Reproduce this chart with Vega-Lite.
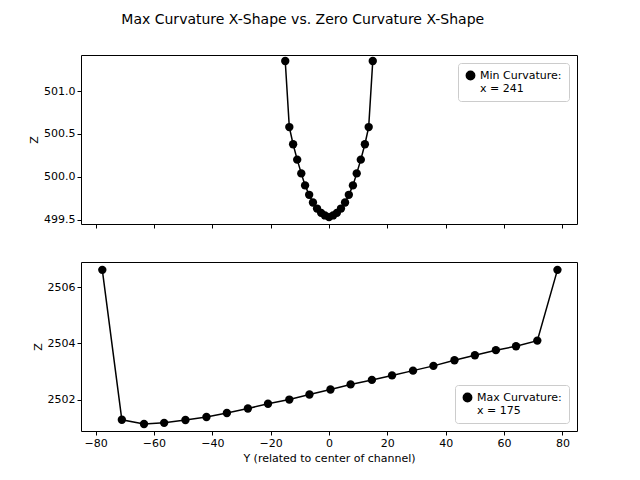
{
  "$schema": "https://vega.github.io/schema/vega-lite/v6.json",
  "title": {"text": "Max Curvature X-Shape vs. Zero Curvature X-Shape", "anchor": "middle", "fontSize": 14, "fontWeight": "normal", "font": "DejaVu Sans", "offset": 28},
  "padding": {"left": 28, "top": 12, "right": 10, "bottom": 5},
  "spacing": 32,
  "datasets": {
    "top": [
      {"y": -15.0, "z": 501.35}, {"y": -13.6, "z": 500.58}, {"y": -12.3, "z": 500.38}, {"y": -10.9, "z": 500.2},
      {"y": -9.5, "z": 500.04}, {"y": -8.2, "z": 499.9}, {"y": -6.8, "z": 499.79}, {"y": -5.5, "z": 499.7},
      {"y": -4.1, "z": 499.63}, {"y": -2.7, "z": 499.58}, {"y": -1.4, "z": 499.55}, {"y": 0.0, "z": 499.53},
      {"y": 1.4, "z": 499.55}, {"y": 2.7, "z": 499.58}, {"y": 4.1, "z": 499.63}, {"y": 5.5, "z": 499.7},
      {"y": 6.8, "z": 499.79}, {"y": 8.2, "z": 499.9}, {"y": 9.5, "z": 500.04}, {"y": 10.9, "z": 500.2},
      {"y": 12.3, "z": 500.38}, {"y": 13.6, "z": 500.58}, {"y": 15.0, "z": 501.35}
    ],
    "bottom": [
      {"y": -77.7, "z": 2506.62}, {"y": -71.0, "z": 2501.28}, {"y": -63.4, "z": 2501.13}, {"y": -56.5, "z": 2501.17},
      {"y": -49.2, "z": 2501.27}, {"y": -42.0, "z": 2501.38}, {"y": -35.0, "z": 2501.52}, {"y": -27.8, "z": 2501.68},
      {"y": -20.9, "z": 2501.85}, {"y": -13.6, "z": 2502.0}, {"y": -6.7, "z": 2502.18}, {"y": 0.5, "z": 2502.36},
      {"y": 7.4, "z": 2502.54}, {"y": 14.7, "z": 2502.7}, {"y": 21.6, "z": 2502.86}, {"y": 28.8, "z": 2503.03},
      {"y": 35.8, "z": 2503.2}, {"y": 43.0, "z": 2503.4}, {"y": 50.0, "z": 2503.58}, {"y": 57.2, "z": 2503.76},
      {"y": 64.1, "z": 2503.9}, {"y": 71.4, "z": 2504.1}, {"y": 78.3, "z": 2506.62}
    ]
  },
  "vconcat": [
    {
      "width": 496, "height": 169,
      "data": {"name": "top"},
      "transform": [{"calculate": "'min'", "as": "series"}],
      "mark": {"type": "line", "point": {"size": 70, "filled": true, "opacity": 1}, "color": "black", "strokeWidth": 1.5},
      "encoding": {
        "x": {"field": "y", "type": "quantitative", "scale": {"domain": [-85, 85], "nice": false},
              "axis": {"values": [-80, -60, -40, -20, 0, 20, 40, 60, 80], "labels": false, "title": null}},
        "y": {"field": "z", "type": "quantitative", "title": "Z", "scale": {"domain": [499.45, 501.42], "nice": false, "zero": false},
              "axis": {"values": [499.5, 500.0, 500.5, 501.0], "format": ".1f"}},
        "color": {"field": "series", "type": "nominal", "scale": {"range": ["black"]},
                  "legend": {"orient": "top-right", "title": null, "labelExpr": "['Min Curvature:', 'x = 241']", "symbolType": "circle"}}
      }
    },
    {
      "width": 496, "height": 169,
      "data": {"name": "bottom"},
      "transform": [{"calculate": "'max'", "as": "series"}],
      "mark": {"type": "line", "point": {"size": 70, "filled": true, "opacity": 1}, "color": "black", "strokeWidth": 1.5},
      "encoding": {
        "x": {"field": "y", "type": "quantitative", "scale": {"domain": [-85, 85], "nice": false},
              "axis": {"values": [-80, -60, -40, -20, 0, 20, 40, 60, 80], "title": "Y (related to center of channel)"}},
        "y": {"field": "z", "type": "quantitative", "title": "Z", "scale": {"domain": [2500.88, 2506.9], "nice": false, "zero": false},
              "axis": {"values": [2502, 2504, 2506], "format": "d"}},
        "color": {"field": "series", "type": "nominal", "scale": {"range": ["black"]},
                  "legend": {"orient": "bottom-right", "title": null, "labelExpr": "['Max Curvature:', 'x = 175']", "symbolType": "circle"}}
      }
    }
  ],
  "resolve": {"scale": {"color": "independent"}, "legend": {"color": "independent"}},
  "config": {
    "font": "DejaVu Sans",
    "view": {"stroke": "black", "strokeWidth": 1},
    "axis": {"grid": false, "domain": false, "tickColor": "black", "labelColor": "black", "titleColor": "black",
             "labelFontSize": 11, "titleFontSize": 11, "titleFontWeight": "normal", "tickSize": 4},
    "legend": {"strokeColor": "#cccccc", "padding": 7, "cornerRadius": 3, "fillColor": "white", "labelFontSize": 11,
               "labelColor": "black", "symbolSize": 70, "symbolFillColor": "black", "symbolStrokeColor": "black",
               "offset": 8, "labelLimit": 200}
  }
}
